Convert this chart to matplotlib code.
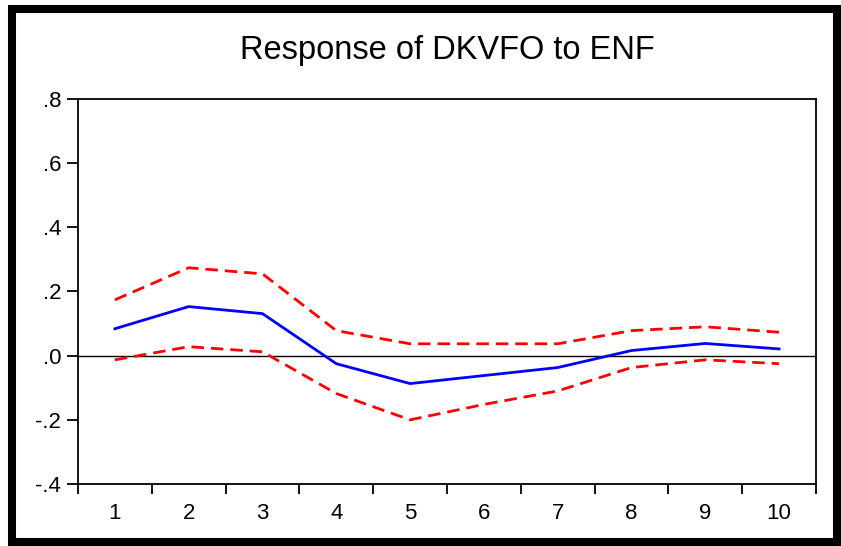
import matplotlib
matplotlib.use('Agg')
import matplotlib.pyplot as plt
from matplotlib.patches import Rectangle
import numpy as np

plt.rcParams['font.family'] = ['Liberation Sans', 'DejaVu Sans']

# impulse response and +/- 2 s.e. bands, periods 1..10
periods = list(range(1, 11))
response = [0.084, 0.153, 0.131, -0.025, -0.087, -0.062, -0.037, 0.016, 0.038, 0.021]
upper = [0.174, 0.274, 0.255, 0.078, 0.037, 0.037, 0.037, 0.078, 0.090, 0.073]
lower = [-0.013, 0.028, 0.012, -0.118, -0.200, -0.152, -0.110, -0.037, -0.013, -0.025]

y_ticks = [-0.4, -0.2, 0.0, 0.2, 0.4, 0.6, 0.8]
y_labels = ['-.4', '-.2', '.0', '.2', '.4', '.6', '.8']

W, H = 841, 546
fig = plt.figure(figsize=(W / 100, H / 100), dpi=100)
ax = fig.add_axes([78 / W, 1 - 484 / H, (816 - 78) / W, (484 - 99) / H])

ax.axhline(0, color='black', lw=1.0, zorder=1)
ax.plot(periods, upper, color='#ff0000', lw=2.0, dashes=(4.5, 2.5), zorder=2)
ax.plot(periods, lower, color='#ff0000', lw=2.0, dashes=(4.5, 2.5), zorder=2)
ax.plot(periods, response, color='#0000ff', lw=2.0, zorder=3)

ax.set_xlim(0.5, 10.5)
ax.set_ylim(-0.4, 0.8)

# tick marks between periods, labels at period centres
ax.set_xticks(np.arange(0.5, 11, 1.0))
ax.set_xticklabels([])
ax.set_xticks(periods, minor=True)
ax.set_xticklabels([str(p) for p in periods], minor=True)
ax.tick_params(axis='x', which='major', direction='out', length=7, width=1.3)
ax.tick_params(axis='x', which='minor', length=0, pad=14, labelsize=16)

ax.set_yticks(y_ticks)
ax.set_yticklabels(y_labels)
ax.tick_params(axis='y', direction='out', length=8, width=1.3, pad=4, labelsize=16)

for s in ax.spines.values():
    s.set_linewidth(1.3)

ax.set_title('Response of DKVFO to ENF', fontsize=23.5, pad=29)

# thick outer frame
fig.add_artist(Rectangle((12 / W, 1 - 542 / H), (837 - 12) / W, (542 - 8.5) / H,
                         transform=fig.transFigure, fill=False,
                         edgecolor='black', lw=5.8))

fig.savefig('out.png', dpi=100)
